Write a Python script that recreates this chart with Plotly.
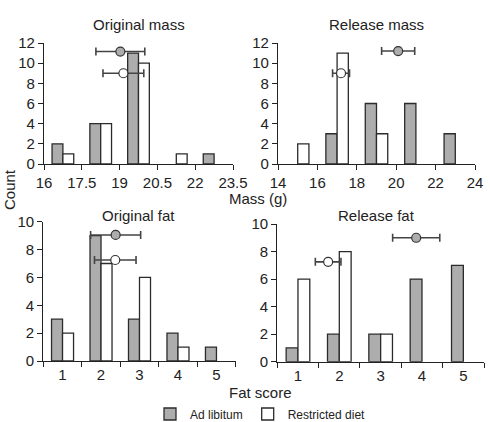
import plotly.graph_objects as go

W, H = 490, 422

# ---- data ----
mass_orig_bins = [16.75, 18.25, 19.75, 21.25, 22.75]
mass_orig_adlib = [2, 4, 11, 0, 1]
mass_orig_restr = [1, 4, 10, 1, 0]
mass_orig_mean_adlib, mass_orig_sd_adlib, mass_orig_y_adlib = 19.03, 0.97, 11.15
mass_orig_mean_restr, mass_orig_sd_restr, mass_orig_y_restr = 19.15, 0.81, 9.0

mass_rel_bins = [15, 17, 19, 21, 23]
mass_rel_adlib = [0, 3, 6, 6, 3]
mass_rel_restr = [2, 11, 3, 0, 0]
mass_rel_mean_adlib, mass_rel_sd_adlib, mass_rel_y_adlib = 20.1, 0.84, 11.2
mass_rel_mean_restr, mass_rel_sd_restr, mass_rel_y_restr = 17.2, 0.43, 9.0

fat_scores = [1, 2, 3, 4, 5]
fat_orig_adlib = [3, 9, 3, 2, 1]
fat_orig_restr = [2, 7, 6, 1, 0]
fat_orig_mean_adlib, fat_orig_sd_adlib, fat_orig_y_adlib = 2.38, 0.65, 9.05
fat_orig_mean_restr, fat_orig_sd_restr, fat_orig_y_restr = 2.37, 0.54, 7.25

fat_rel_adlib = [1, 2, 2, 6, 7]
fat_rel_restr = [6, 8, 2, 0, 0]
fat_rel_mean_adlib, fat_rel_sd_adlib, fat_rel_y_adlib = 3.86, 0.57, 9.0
fat_rel_mean_restr, fat_rel_sd_restr, fat_rel_y_restr = 1.73, 0.31, 7.25

titles = ["Original mass", "Release mass", "Original fat", "Release fat"]

GRAY = "#adadad"
EDGE = "#2b2b2b"
FONT = "Liberation Sans, Arial, sans-serif"

fig = go.Figure()

panels = [
    dict(x=mass_orig_bins, a=mass_orig_adlib, r=mass_orig_restr, bw=0.43,
         ma=(mass_orig_mean_adlib, mass_orig_sd_adlib, mass_orig_y_adlib),
         mr=(mass_orig_mean_restr, mass_orig_sd_restr, mass_orig_y_restr)),
    dict(x=mass_rel_bins, a=mass_rel_adlib, r=mass_rel_restr, bw=0.57,
         ma=(mass_rel_mean_adlib, mass_rel_sd_adlib, mass_rel_y_adlib),
         mr=(mass_rel_mean_restr, mass_rel_sd_restr, mass_rel_y_restr)),
    dict(x=fat_scores, a=fat_orig_adlib, r=fat_orig_restr, bw=0.286,
         ma=(fat_orig_mean_adlib, fat_orig_sd_adlib, fat_orig_y_adlib),
         mr=(fat_orig_mean_restr, fat_orig_sd_restr, fat_orig_y_restr)),
    dict(x=fat_scores, a=fat_rel_adlib, r=fat_rel_restr, bw=0.286,
         ma=(fat_rel_mean_adlib, fat_rel_sd_adlib, fat_rel_y_adlib),
         mr=(fat_rel_mean_restr, fat_rel_sd_restr, fat_rel_y_restr)),
]

for i, p in enumerate(panels):
    n = i + 1
    xa = "x" if n == 1 else f"x{n}"
    ya = "y" if n == 1 else f"y{n}"
    xs_a = [x for x, v in zip(p["x"], p["a"]) if v > 0]
    ys_a = [v for v in p["a"] if v > 0]
    xs_r = [x for x, v in zip(p["x"], p["r"]) if v > 0]
    ys_r = [v for v in p["r"] if v > 0]
    fig.add_trace(go.Bar(x=xs_a, y=ys_a, width=p["bw"], offset=-p["bw"],
                         marker=dict(color=GRAY, line=dict(color=EDGE, width=1.3)),
                         name="Ad libitum", showlegend=(n == 1), legendgroup="a",
                         xaxis=xa, yaxis=ya))
    fig.add_trace(go.Bar(x=xs_r, y=ys_r, width=p["bw"], offset=0,
                         marker=dict(color="white", line=dict(color=EDGE, width=1.3)),
                         name="Restricted diet", showlegend=(n == 1), legendgroup="r",
                         xaxis=xa, yaxis=ya))
    for (m, sd, yy), col in ((p["ma"], GRAY), (p["mr"], "white")):
        fig.add_trace(go.Scatter(x=[m], y=[yy], mode="markers",
                                 marker=dict(size=9, color=col, line=dict(color="#333333", width=1.2)),
                                 error_x=dict(type="data", array=[sd], color="#444444",
                                              thickness=1.6, width=4),
                                 showlegend=False, xaxis=xa, yaxis=ya, cliponaxis=False))

def px(v):
    return v / W

def py(v):
    return 1 - v / H

axis_common = dict(showline=True, linecolor="#222222", linewidth=1.2, ticks="outside",
                   ticklen=5, tickcolor="#222222", tickwidth=1.2, showgrid=False,
                   zeroline=False, automargin=False,
                   tickfont=dict(size=15, color="#222222", family=FONT))

dom = {
    1: ([px(44), px(233)], [py(164), py(43)]),
    2: ([px(278), px(475)], [py(164), py(43)]),
    3: ([px(43.3), px(235.7)], [py(361), py(221.7)]),
    4: ([px(277.3), px(484)], [py(361.7), py(224)]),
}

layout = dict(
    width=W, height=H, margin=dict(l=0, r=0, t=0, b=0, autoexpand=False),
    paper_bgcolor="white", plot_bgcolor="white",
    barmode="overlay", font=dict(family=FONT, color="#222222"),
    legend=dict(orientation="h", x=px(150), xanchor="left", y=py(414), yanchor="middle",
                font=dict(size=12, family=FONT), bgcolor="rgba(0,0,0,0)",
                traceorder="normal", itemwidth=30),
)

xcfg = {
    1: dict(range=[16, 23.5], tickvals=[16, 17.5, 19, 20.5, 22, 23.5]),
    2: dict(range=[14, 24], tickvals=[14, 16, 18, 20, 22, 24]),
    3: dict(range=[0.5, 5.5], tickvals=fat_scores, ticks="",
            minor=dict(tickvals=[0.5, 1.5, 2.5, 3.5, 4.5, 5.5], ticks="outside",
                       ticklen=5, tickcolor="#222222", tickwidth=1.2)),
    4: dict(range=[0.5, 5.5], tickvals=fat_scores, ticks="",
            minor=dict(tickvals=[0.5, 1.5, 2.5, 3.5, 4.5, 5.5], ticks="outside",
                       ticklen=5, tickcolor="#222222", tickwidth=1.2)),
}
ycfg = {
    1: dict(range=[0, 12], tickvals=[0, 2, 4, 6, 8, 10, 12]),
    2: dict(range=[0, 12], tickvals=[0, 2, 4, 6, 8, 10, 12]),
    3: dict(range=[0, 10], tickvals=[0, 2, 4, 6, 8, 10]),
    4: dict(range=[0, 10], tickvals=[0, 2, 4, 6, 8, 10]),
}

for n in range(1, 5):
    xk = "xaxis" if n == 1 else f"xaxis{n}"
    yk = "yaxis" if n == 1 else f"yaxis{n}"
    yname = "y" if n == 1 else f"y{n}"
    xname = "x" if n == 1 else f"x{n}"
    xd = dict(axis_common)
    xd.update(xcfg[n])
    xd.update(domain=dom[n][0], anchor=yname)
    yd = dict(axis_common)
    yd.update(ycfg[n])
    yd.update(domain=dom[n][1], anchor=xname)
    layout[xk] = xd
    layout[yk] = yd

fig.update_layout(**layout)

TXT = dict(size=15, family=FONT, color="#222222")
title_pos = [(139, 24), (376, 24), (138, 215), (376, 215)]
for t, (x, y) in zip(titles, title_pos):
    fig.add_annotation(text=t, x=px(x), y=py(y), xref="paper", yref="paper",
                       showarrow=False, font=TXT, xanchor="center", yanchor="middle")

fig.add_annotation(text="Mass (g)", x=px(258), y=py(198), xref="paper", yref="paper",
                   showarrow=False, font=TXT, xanchor="center", yanchor="middle")
fig.add_annotation(text="Fat score", x=px(260), y=py(392), xref="paper", yref="paper",
                   showarrow=False, font=TXT, xanchor="center", yanchor="middle")
fig.add_annotation(text="Count", x=px(9), y=py(190), xref="paper", yref="paper",
                   showarrow=False, textangle=-90, font=TXT,
                   xanchor="center", yanchor="middle")

fig.write_html("out.html")
